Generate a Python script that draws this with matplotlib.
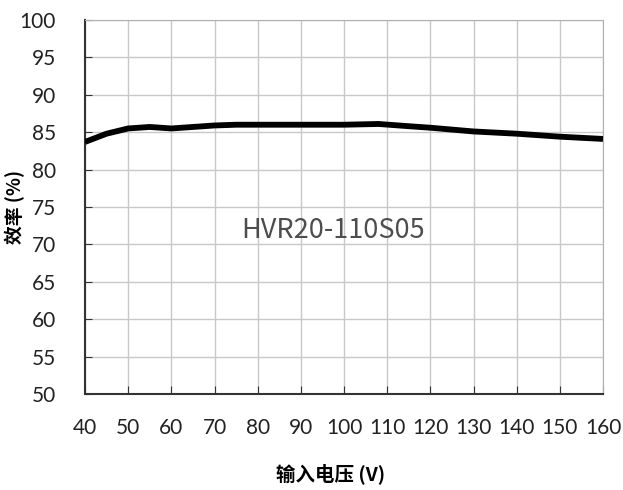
import matplotlib
matplotlib.use("Agg")
import matplotlib.pyplot as plt

plt.rcParams['font.family'] = ['Noto Sans CJK SC', 'DejaVu Sans']

# datos
voltaje = [40, 45, 50, 55, 60, 65, 70, 75, 80, 90, 100, 108, 115, 120, 130, 140, 150, 160]
eficiencia = [83.7, 84.8, 85.5, 85.7, 85.5, 85.7, 85.9, 86.0, 86.0, 86.0, 86.0, 86.1, 85.8, 85.6, 85.1, 84.8, 84.4, 84.1]

xticks = list(range(40, 161, 10))
yticks = list(range(50, 101, 5))
modelo = "HVR20-110S05"

fig = plt.figure(figsize=(6.23, 4.90), dpi=100)
ax = fig.add_axes([85 / 623, 1 - 394 / 490, 518 / 623, 374 / 490])

ax.plot(voltaje, eficiencia, color="black", linewidth=4.2, solid_capstyle="butt", zorder=3)

ax.set_xlim(40, 160)
ax.set_ylim(50, 100)
ax.set_xticks(xticks)
ax.set_yticks(yticks)
ax.grid(True, color="#c8c8c8", linewidth=1)
ax.set_axisbelow(True)

for s in ["top", "right"]:
    ax.spines[s].set_color("#b0b0b0")
for s in ["left", "bottom"]:
    ax.spines[s].set_color("#333333")
    ax.spines[s].set_linewidth(1.5)

ax.tick_params(axis="y", direction="in", length=5, pad=21, labelsize=15, colors="#333333", labelcolor="#222222")
ax.tick_params(axis="x", direction="in", length=6, pad=17, labelsize=15, colors="#333333", labelcolor="#222222")
for lab in ax.get_xticklabels() + ax.get_yticklabels():
    lab.set_family(["Lato", "DejaVu Sans"])

ax.text(97.4, 71.8, modelo, fontsize=19.5, color="#4d4d4d", ha="center", va="center",
        fontweight="light")

fig.text(15 / 623, 1 - 207 / 490, "效率 (%)", rotation=90, ha="center", va="center",
         fontsize=13.5, fontweight="bold")
fig.text(331 / 623, 1 - 474 / 490, "输入电压 (V)", ha="center", va="center",
         fontsize=14, fontweight="bold")

fig.savefig("out.png", dpi=100)
